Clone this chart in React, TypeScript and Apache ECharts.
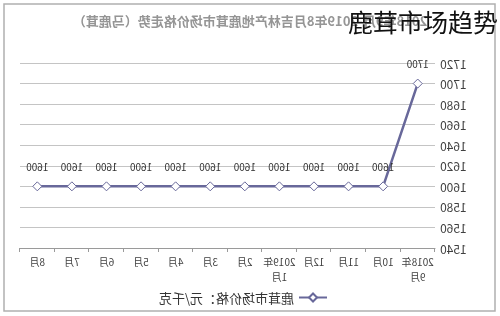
import React, { useEffect, useRef } from "react";
import * as echarts from "echarts";

// Monthly prices, Sept 2018 → Aug 2019
const months = [
  "2018年\n9月", "10月", "11月", "12月", "2019年\n1月", "2月",
  "3月", "4月", "5月", "6月", "7月", "8月",
];
const prices = [1700, 1600, 1600, 1600, 1600, 1600, 1600, 1600, 1600, 1600, 1600, 1600];
const yTicks = { min: 1540, max: 1720, step: 20 };
const seriesName = "鹿茸市场价格：元/千克";
const chartTitle = "2018年9月-2019年8月吉林产地鹿茸市场价格走势（马鹿茸）";
const stampText = "鹿茸市场趋势";

const FONT = '"Noto Sans CJK SC", "Noto Sans", sans-serif';
const LINE = "#68689a";

export default function App() {
  const ref = useRef<HTMLDivElement>(null);

  useEffect(() => {
    if (!ref.current) return;
    const chart = echarts.init(ref.current, null, { renderer: "svg" });
    chart.setOption({
      animation: false,
      backgroundColor: "#ffffff",
      textStyle: { fontFamily: FONT },
      title: {
        text: chartTitle,
        left: "center",
        top: 9,
        textStyle: { fontSize: 13, fontWeight: "bold", color: "#959595", fontFamily: FONT },
      },
      graphic: [
        {
          type: "rect",
          shape: { x: 5, y: 4, width: 491, height: 307 },
          style: { fill: "none", stroke: "#b0b0b0", lineWidth: 1.5 },
          silent: true,
        },
        {
          // stamp text reads left-to-right on the flipped page
          type: "text",
          x: 152,
          y: 21,
          scaleX: -1,
          style: {
            text: stampText,
            fontSize: 25,
            fontFamily: FONT,
            fill: "#111111",
            textAlign: "left",
            textVerticalAlign: "middle",
          },
          z: 100,
        },
      ],
      legend: {
        data: [seriesName],
        left: 167,
        top: 286,
        itemWidth: 28,
        itemHeight: 10,
        itemGap: 5,
        textStyle: { fontSize: 13, color: "#333333", fontFamily: FONT },
      },
      grid: { left: 65, right: 20, top: 63, bottom: 68 },
      xAxis: {
        type: "category",
        data: months,
        boundaryGap: true,
        axisLine: { lineStyle: { color: "#9a9a9a", width: 1 } },
        axisTick: { show: true, alignWithLabel: false, length: 4, lineStyle: { color: "#9a9a9a" } },
        axisLabel: { fontSize: 10, color: "#404040", margin: 6, lineHeight: 15, interval: 0 },
      },
      yAxis: {
        type: "value",
        min: yTicks.min,
        max: yTicks.max,
        interval: yTicks.step,
        axisLine: { show: false },
        axisTick: { show: false },
        axisLabel: { fontSize: 12, color: "#404040", margin: 5, formatter: (v: number) => String(v) },
        splitLine: { lineStyle: { color: "#c4c4c4", width: 1 } },
      },
      series: [
        {
          name: seriesName,
          type: "line",
          data: prices,
          symbol: "diamond",
          symbolSize: 9,
          lineStyle: { color: LINE, width: 2.5 },
          itemStyle: { color: "#ffffff", borderColor: LINE, borderWidth: 1 },
          label: {
            show: true,
            position: "top",
            distance: 10,
            fontSize: 10,
            color: "#333333",
            fontFamily: FONT,
          },
        },
      ],
    });
    return () => chart.dispose();
  }, []);

  return (
    <div
      ref={ref}
      style={{
        position: "fixed",
        left: 0,
        top: 0,
        width: 500,
        height: 316,
        transform: "scaleX(-1)",
      }}
    />
  );
}
